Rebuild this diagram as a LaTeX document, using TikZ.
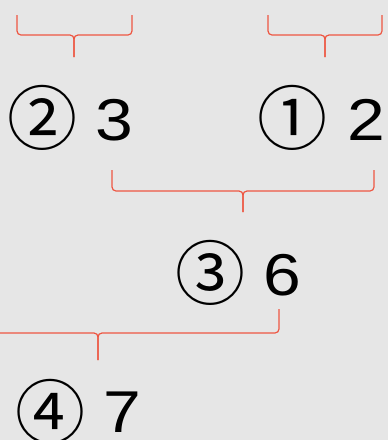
\documentclass[tikz,border=0pt]{standalone}
\usepackage{fontspec}
\setmainfont{Liberation Sans}
\newfontfamily\cjkfont{Noto Sans CJK JP}
\usetikzlibrary{positioning}
\definecolor{bggray}{RGB}{230,230,230}
\definecolor{bracered}{RGB}{238,86,66}
\tikzset{
  num/.style   = {inner sep=0pt, anchor=base, xscale=1.15, transform shape,
                  font=\fontsize{59}{59}\selectfont},
  circnum/.style = {inner sep=0pt, anchor=center, font=\cjkfont\fontsize{70}{70}\selectfont},
  brace/.style = {draw=bracered, line width=1.2pt, rounded corners=4pt}
}

\begin{document}
\begin{tikzpicture}[x=1pt, y=-1pt]  % pixel-like units, y grows downward
  \fill[bggray] (0,0) rectangle (388,440);
  \useasboundingbox (0,0) rectangle (388,440);

  %  --  Braces: left/right ends, tip, and their three heights
  \foreach \l/\r/\t/\ya/\yb/\yc in {17/132/74/15/35/57, 268/382/325/15/35/57,
                                    112/374/243/170/191/212, -30/279/98/309/333/360}{
    \coordinate (bl\t) at (\l,\ya);
    \coordinate (br\t) at (\r,\ya);
    \coordinate (bt\t) at (\t,\yc);
    \draw[brace] (bl\t) -- (\l,\yb) -- (\t,\yb) -- (bt\t);
    \draw[brace] (br\t) -- (\r,\yb) -- (\t,\yb) -- (bt\t);
  }

  %  --  Top row
  \node[circnum] (circ2) at (42,117.5) {②};
  \node[num]     (val2)  at (114,140)  {3};
  \node[circnum] (circ1) at (292.5,117.5) {①};
  \node[num]     (val1)  at (366,140)  {2};

  %  --  Middle row
  \node[circnum] (circ3) at (210,272.5) {③};
  \node[num]     (val3)  at (282.5,295) {6};

  %  --  Bottom row
  \node[circnum] (circ4) at (51,411.5) {④};
  \node[num]     (val4)  at (122.5,432) {7};
\end{tikzpicture}
\end{document}
